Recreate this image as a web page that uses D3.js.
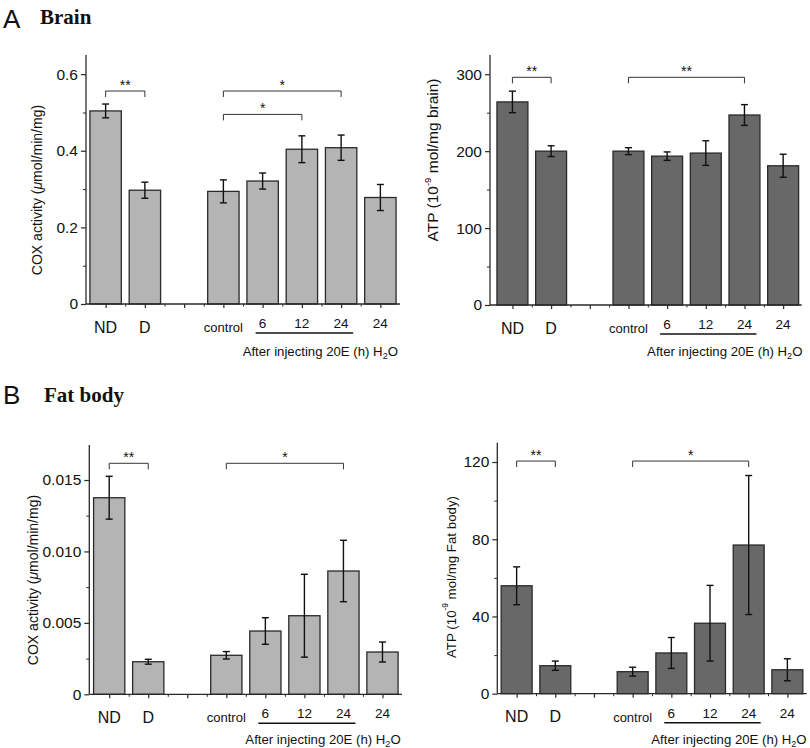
<!DOCTYPE html>
<html>
<head>
<meta charset="utf-8">
<script src="https://cdn.jsdelivr.net/npm/d3@7"></script>
<style>
  body { margin: 0; background: #fff; }
  svg { display: block; }
</style>
</head>
<body>
<svg id="chart" width="810" height="748"></svg>
<script>
// ---------- data ----------
const categories = ["ND", "D", "", "control", "6", "12", "24", "24"];
const positions  = [1, 2, 3, 4, 5, 6, 7, 8];

const brainCox    = [0.504, 0.297, null, 0.294, 0.321, 0.404, 0.408, 0.278];
const brainCoxErr = [0.018, 0.021, null, 0.030, 0.021, 0.035, 0.033, 0.034];
const brainAtp    = [264, 200, null, 200, 193.5, 197.5, 247, 181];
const brainAtpErr = [14, 7, null, 4.5, 5.5, 16, 13.5, 15];
const fatCox      = [0.01376, 0.00228, null, 0.00273, 0.00443, 0.0055, 0.00863, 0.00296];
const fatCoxErr   = [0.0015, 0.00017, null, 0.00026, 0.00093, 0.0029, 0.00215, 0.0007];
const fatAtp      = [55.9, 14.5, null, 11.4, 21.1, 36.5, 77, 12.4];
const fatAtpErr   = [9.8, 2.4, null, 2.3, 8, 19.6, 36, 5.7];

const brainCoxTicks = [0, 0.2, 0.4, 0.6];
const brainCoxTickLabels = ["0", "0.2", "0.4", "0.6"];
const brainAtpTicks = [0, 100, 200, 300];
const brainAtpTickLabels = ["0", "100", "200", "300"];
const fatCoxTicks = [0, 0.005, 0.010, 0.015];
const fatCoxTickLabels = ["0", "0.005", "0.010", "0.015"];
const fatAtpTicks = [0, 40, 80, 120];
const fatAtpTickLabels = ["0", "40", "80", "120"];

// significance brackets: [from position, to position, level (data units), label]
const brainCoxSig = [[1, 2, 0.556, "**"], [4, 7, 0.556, "*"], [4, 6, 0.495, "*"]];
const brainAtpSig = [[1, 2, 296, "**"], [4, 7, 296, "**"]];
const fatCoxSig   = [[1, 2, 0.01617, "**"], [4, 7, 0.01617, "*"]];
const fatAtpSig   = [[1, 2, 120.5, "**"], [4, 7, 120.5, "*"]];

// ---------- layout ----------
const SANS = "'Liberation Sans', Arial, Helvetica, sans-serif";
const SERIF = "'Liberation Serif', 'Times New Roman', serif";
const svg = d3.select("#chart").style("font-family", SANS);
const light = "#b4b4b4", dark = "#686868", ink = "#2a2a2a";

const panels = [
  { vals: brainCox, errs: brainCoxErr, ticks: brainCoxTicks, tickLabels: brainCoxTickLabels,
    minor: [0.1, 0.3, 0.5], sig: brainCoxSig, fill: light,
    x0: 86, x1: 400, yb: 304, yt: 55, xd: [0.5, 8.5], yd: [0, 0.65],
    label: "cox", labelX: 38, labelY: 190, labelFs: 14, afterDy: 52 },
  { vals: brainAtp, errs: brainAtpErr, ticks: brainAtpTicks, tickLabels: brainAtpTickLabels,
    minor: [50, 150, 250], sig: brainAtpSig, fill: dark,
    x0: 490, x1: 801.7, yb: 305, yt: 55, xd: [0.42, 8.48], yd: [0, 325],
    label: "atp", unitText: "brain", labelX: 434, labelY: 160, labelFs: 15.5, afterDy: 51 },
  { vals: fatCox, errs: fatCoxErr, ticks: fatCoxTicks, tickLabels: fatCoxTickLabels,
    minor: [0.0025, 0.0075, 0.0125], sig: fatCoxSig, fill: light,
    x0: 89.3, x1: 402, yb: 694.3, yt: 445, xd: [0.49, 8.5], yd: [0, 0.01745],
    label: "cox", labelX: 34, labelY: 580, labelFs: 14, afterDy: 50 },
  { vals: fatAtp, errs: fatAtpErr, ticks: fatAtpTicks, tickLabels: fatAtpTickLabels,
    minor: [20, 60, 100], sig: fatAtpSig, fill: dark,
    x0: 497.3, x1: 806.7, yb: 693.7, yt: 442.7, xd: [0.5, 8.5], yd: [0, 130],
    label: "atp", unitText: "Fat body", labelX: 452, labelY: 577, labelFs: 13.3, afterDy: 50 }
];

panels.forEach(p => {
  const g = svg.append("g");
  const x = d3.scaleLinear().domain(p.xd).range([p.x0, p.x1]);
  const y = d3.scaleLinear().domain(p.yd).range([p.yb, p.yt]);
  const step = x(2) - x(1);
  const bw = step * 0.8;

  const data = positions.map((pos, i) => ({ pos, v: p.vals[i], e: p.errs[i] }))
                        .filter(d => d.v !== null);

  // bars
  g.selectAll("rect.bar").data(data).join("rect")
    .attr("x", d => x(d.pos) - bw / 2)
    .attr("y", d => y(d.v))
    .attr("width", bw)
    .attr("height", d => y(0) - y(d.v))
    .attr("fill", p.fill)
    .attr("stroke", ink)
    .attr("stroke-width", 1.3);

  // error bars
  const eb = g.selectAll("g.err").data(data).join("g");
  eb.append("line")
    .attr("x1", d => x(d.pos)).attr("x2", d => x(d.pos))
    .attr("y1", d => y(d.v + d.e)).attr("y2", d => y(d.v - d.e))
    .attr("stroke", "#111").attr("stroke-width", 1.4);
  eb.append("line")
    .attr("x1", d => x(d.pos) - 3.5).attr("x2", d => x(d.pos) + 3.5)
    .attr("y1", d => y(d.v + d.e)).attr("y2", d => y(d.v + d.e))
    .attr("stroke", "#111").attr("stroke-width", 1.4);
  eb.append("line")
    .attr("x1", d => x(d.pos) - 3.5).attr("x2", d => x(d.pos) + 3.5)
    .attr("y1", d => y(d.v - d.e)).attr("y2", d => y(d.v - d.e))
    .attr("stroke", "#111").attr("stroke-width", 1.4);

  // y axis
  const yAxis = d3.axisLeft(y).tickValues(p.ticks)
    .tickFormat((d, i) => p.tickLabels[i]).tickSize(5).tickPadding(3);
  const ya = g.append("g").attr("transform", `translate(${p.x0},0)`).call(yAxis)
    .attr("font-family", null);
  ya.select(".domain").attr("d", `M0,${p.yt}V${p.yb}`).attr("stroke", ink).attr("stroke-width", 1.3);
  ya.selectAll(".tick line").attr("stroke", ink).attr("stroke-width", 1.2);
  ya.selectAll(".tick text").attr("font-size", 15.5).attr("fill", "#111");
  const yMinor = d3.axisLeft(y).tickValues(p.minor).tickFormat("").tickSize(3);
  const ym = g.append("g").attr("transform", `translate(${p.x0},0)`).call(yMinor);
  ym.select(".domain").remove();
  ym.selectAll(".tick line").attr("stroke", ink).attr("stroke-width", 1);

  // x axis
  const xAxis = d3.axisBottom(x).tickValues(positions).tickFormat("").tickSize(4);
  const xa = g.append("g").attr("transform", `translate(0,${p.yb})`).call(xAxis);
  xa.select(".domain").attr("d", `M${p.x0},0H${p.x1}`).attr("stroke", ink).attr("stroke-width", 1.3);
  xa.selectAll(".tick line").attr("stroke", ink).attr("stroke-width", 1.2);
  const xMinorVals = d3.range(1.5, 8.5, 1);
  const xMinor = d3.axisBottom(x).tickValues(xMinorVals).tickFormat("").tickSize(2.5);
  const xm = g.append("g").attr("transform", `translate(0,${p.yb})`).call(xMinor);
  xm.select(".domain").remove();
  xm.selectAll(".tick line").attr("stroke", ink).attr("stroke-width", 1);

  // x category labels
  positions.forEach((pos, i) => {
    const c = categories[i];
    if (!c) return;
    let fs = 13.5, dy = 24;
    if (c === "ND" || c === "D") { fs = 16; dy = 28.5; }
    else if (c === "control") { fs = 13; dy = 28; }
    g.append("text").attr("x", x(pos)).attr("y", p.yb + dy)
      .attr("text-anchor", "middle").attr("font-size", fs).attr("fill", "#111").text(c);
  });
  // underline for 20E group
  g.append("line")
    .attr("x1", x(5) - 7).attr("x2", x(7) + 12)
    .attr("y1", p.yb + 29).attr("y2", p.yb + 29)
    .attr("stroke", "#111").attr("stroke-width", 1.6);
  const after = g.append("text").attr("x", x(5) - 20).attr("y", p.yb + p.afterDy)
    .attr("font-size", 13.2).attr("fill", "#111");
  after.append("tspan").text("After injecting 20E (h) H");
  after.append("tspan").attr("font-size", 9).attr("dy", 3).text("2");
  after.append("tspan").attr("dy", -3).text("O");

  // significance brackets
  p.sig.forEach(s => {
    const yy = y(s[2]);
    g.append("path")
      .attr("d", `M${x(s[0])},${yy + 6}V${yy}H${x(s[1])}V${yy + 6}`)
      .attr("fill", "none").attr("stroke", "#333").attr("stroke-width", 1);
    g.append("text").attr("x", (x(s[0]) + x(s[1])) / 2).attr("y", yy - 1)
      .attr("text-anchor", "middle").attr("font-size", 14).attr("fill", "#111").text(s[3]);
  });

  // y axis title
  const t = g.append("text")
    .attr("transform", `translate(${p.labelX},${p.labelY}) rotate(-90)`)
    .attr("text-anchor", "middle").attr("dominant-baseline", "middle")
    .attr("font-size", p.labelFs).attr("fill", "#111");
  if (p.label === "cox") {
    t.append("tspan").text("COX activity (");
    t.append("tspan").attr("font-style", "italic").text("\u03bc");
    t.append("tspan").text("mol/min/mg)");
  } else {
    t.append("tspan").text("ATP (10");
    t.append("tspan").attr("font-size", p.labelFs * 0.62).attr("dy", -6).text("-9");
    t.append("tspan").attr("dy", 6).text(" mol/mg " + p.unitText + ")");
  }
});

// panel titles
svg.append("text").attr("x", 3).attr("y", 28).attr("font-size", 26).attr("fill", "#111").text("A");
svg.append("text").attr("x", 40).attr("y", 24).attr("font-size", 21)
  .attr("font-weight", "bold").style("font-family", SERIF).attr("fill", "#111").text("Brain");
svg.append("text").attr("x", 3).attr("y", 404).attr("font-size", 26).attr("fill", "#111").text("B");
svg.append("text").attr("x", 44).attr("y", 402).attr("font-size", 21)
  .attr("font-weight", "bold").style("font-family", SERIF).attr("fill", "#111").text("Fat body");
</script>
</body>
</html>
